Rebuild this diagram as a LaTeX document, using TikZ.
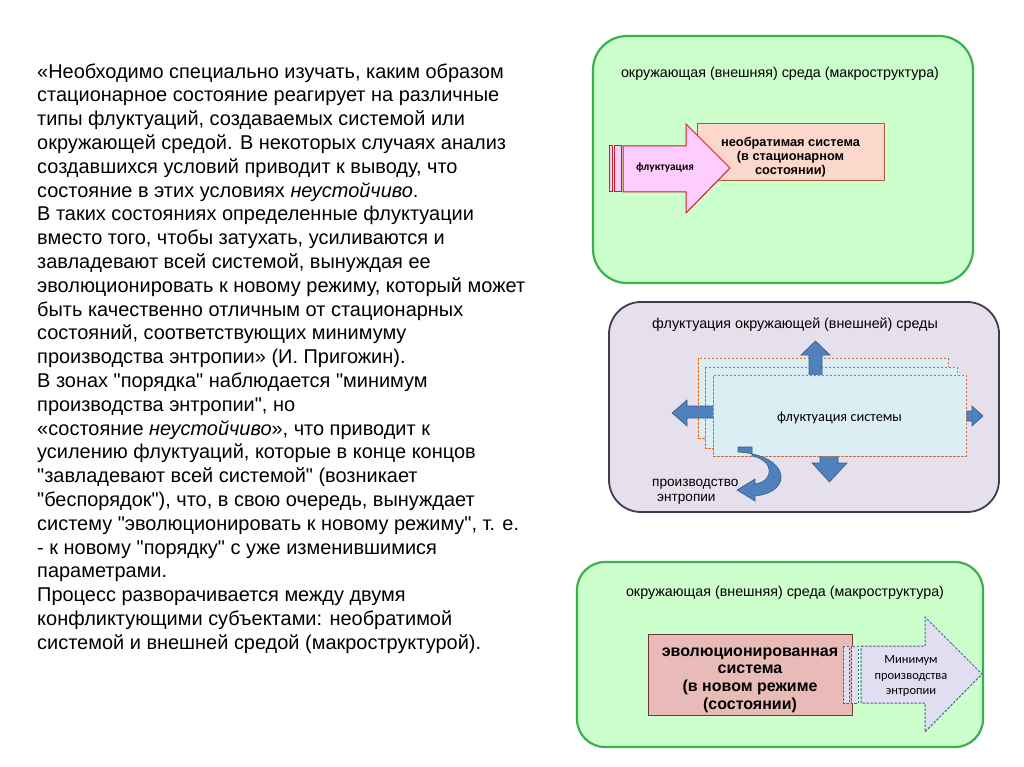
\documentclass[tikz,border=0pt]{standalone}
\usepackage{fontspec}
\setmainfont{Liberation Sans}[Ligatures=TeXOff]
\newfontfamily\calib{Carlito}
\definecolor{gfill}{RGB}{204,255,204}
\definecolor{gdraw}{RGB}{60,176,80}
\definecolor{lavfill}{RGB}{229,224,236}
\definecolor{lavdraw}{RGB}{64,60,80}
\definecolor{rfill}{RGB}{252,216,204}
\definecolor{rdraw}{RGB}{180,90,60}
\definecolor{pinkfill}{RGB}{255,204,255}
\definecolor{pinkdraw}{RGB}{200,30,40}
\definecolor{bfill}{RGB}{219,238,244}
\definecolor{odraw}{RGB}{210,110,40}
\definecolor{blueA}{RGB}{79,129,189}
\definecolor{blueD}{RGB}{56,93,138}
\definecolor{r2fill}{RGB}{232,186,184}
\definecolor{r2draw}{RGB}{110,55,55}
\definecolor{l2fill}{RGB}{224,222,240}
\definecolor{l2draw}{RGB}{75,100,140}
\tikzset{
  envbox/.style={draw=gdraw, fill=gfill, line width=2.2pt},
  lavbox/.style={draw=lavdraw, fill=lavfill, line width=1.8pt},
  fluctrect/.style={draw=odraw, fill=bfill, line width=0.9pt, dash pattern=on 2.5pt off 1.5pt},
  bluearrow/.style={fill=blueA, draw=blueD, line width=0.6pt},
  lbl/.style={inner sep=0pt, font=\fontsize{14.3}{17}\selectfont},
  stripe2/.style={draw=l2draw, fill=l2fill, line width=1pt, dash pattern=on 2.5pt off 1.5pt},
  stripe1/.style={draw=pinkdraw, fill=pinkfill, line width=1pt},
}
\begin{document}
\begin{tikzpicture}[x=1pt,y=-1pt]
\useasboundingbox (0,0) rectangle (1024,767);
\fill[white] (0,0) rectangle (1024,767);

% left text
\node[anchor=north west, align=left, inner sep=0pt, font=\fontsize{19.95}{23.8}\selectfont] (txt) at (37,63.2) {%
«Необходимо специально изучать, каким образом\\
стационарное состояние реагирует на различные\\
типы флуктуаций, создаваемых системой или\\
окружающей средой. В некоторых случаях анализ\\
создавшихся условий приводит к выводу, что\\
состояние в этих условиях \textit{неустойчиво}.\\
В таких состояниях определенные флуктуации\\
вместо того, чтобы затухать, усиливаются и\\
завладевают всей системой, вынуждая ее\\
эволюционировать к новому режиму, который может\\
быть качественно отличным от стационарных\\
состояний, соответствующих минимуму\\
производства энтропии» (И. Пригожин).\\
В зонах "порядка" наблюдается "минимум\\
производства энтропии", но\\
«состояние \textit{неустойчиво}», что приводит к\\
усилению флуктуаций, которые в конце концов\\
"завладевают всей системой" (возникает\\
"беспорядок"), что, в свою очередь, вынуждает\\
систему "эволюционировать к новому режиму", т. е.\\
- к новому "порядку" с уже изменившимися\\
параметрами.\\
Процесс разворачивается между двумя\\
конфликтующими субъектами: необратимой\\
системой и внешней средой (макроструктурой).};

% ---------- box 1 ----------
\draw[envbox, rounded corners=34pt] (593,36) rectangle (973,283);
\node[lbl] (env1) at (780,74) {окружающая (внешняя) среда (макроструктура)};
\node[draw=rdraw, fill=rfill, line width=1pt, minimum width=187pt, minimum height=57pt, inner sep=0pt] (sys1) at (790.5,152.5) {};
\node[inner sep=0pt, align=center, font=\bfseries\fontsize{12.8}{14}\selectfont] (sys1t) at (790.5,157) {необратимая система\\(в стационарном\\состоянии)};
\draw[stripe1] (609,146) rectangle (612,192);
\draw[stripe1] (614,146) rectangle (621,192);
\draw[stripe1]
  (623,146) -- (686,146) -- (686,124) -- (730,168) -- (686,213) -- (686,192) -- (623,192) -- cycle;
\node[inner sep=0pt, font=\calib\bfseries\fontsize{11.3}{13}\selectfont] (fl1) at (665,168) {флуктуация};

% ---------- box 2 ----------
\draw[lavbox, rounded corners=32pt] (609,302) rectangle (999,512);
\node[lbl] (env2) at (795,325) {флуктуация окружающей (внешней) среды};
\draw[fluctrect] (698,358) rectangle (948,438);
\draw[fluctrect] (705,367) rectangle (957,448);
% up arrow
\draw[bluearrow] (809,380) -- (809,355) -- (801,355) -- (815.5,341) -- (830,355) -- (822,355) -- (822,380) -- cycle;
% left arrow
\draw[bluearrow] (720,406) -- (687,406) -- (687,400) -- (672,413) -- (687,426) -- (687,418) -- (720,418) -- cycle;
% right arrow
\draw[bluearrow] (960,411) -- (972,411) -- (972,406) -- (983,416) -- (972,426) -- (972,421) -- (960,421) -- cycle;
% down arrow
\draw[bluearrow] (820,450) -- (820,463) -- (812,463) -- (829.5,482) -- (847,463) -- (838,463) -- (838,450) -- cycle;
\node[fluctrect, minimum width=253pt, minimum height=81pt, inner sep=0pt] (fs) at (839.5,415.5) {};
\node[inner sep=0pt, font=\calib\fontsize{14.3}{16}\selectfont] (fst) at (839.5,418) {флуктуация системы};
\node[anchor=north west, inner sep=0pt, align=left, font=\fontsize{13.6}{15}\selectfont] (entr) at (652,478.5) {производство\\\hspace*{5pt}энтропии};
% curved arrow
\draw[bluearrow]
  (738,447) -- (738,452) .. controls (790,455) and (794,492) .. (755,496)
  -- (755,501) -- (737,490) -- (755,479) -- (755,484)
  .. controls (775,481) and (774,460) .. (752,456) -- (752,447) -- cycle;

% ---------- box 3 ----------
\draw[envbox, rounded corners=28pt] (577,562) rectangle (983,747);
\node[lbl] (env3) at (785,593) {окружающая (внешняя) среда (макроструктура)};
\node[draw=r2draw, fill=r2fill, line width=1pt, minimum width=204pt, minimum height=81pt, inner sep=0pt] (sys2) at (750,674.5) {};
\node[inner sep=0pt, align=center, font=\bfseries\fontsize{16}{17.7}\selectfont] (sys2t) at (750,680) {эволюционированная\\система\\(в новом режиме\\(состоянии)};
\draw[stripe2] (843,646) rectangle (849,703);
\draw[stripe2] (851,646) rectangle (858,703);
\draw[stripe2]
  (861,646) -- (925,646) -- (925,617) -- (982,674) -- (925,732) -- (925,703) -- (861,703) -- cycle;
\node[inner sep=0pt, align=center, font=\calib\fontsize{12.5}{15.5}\selectfont] (mn) at (911,676) {Минимум\\производства\\энтропии};
\end{tikzpicture}
\end{document}
